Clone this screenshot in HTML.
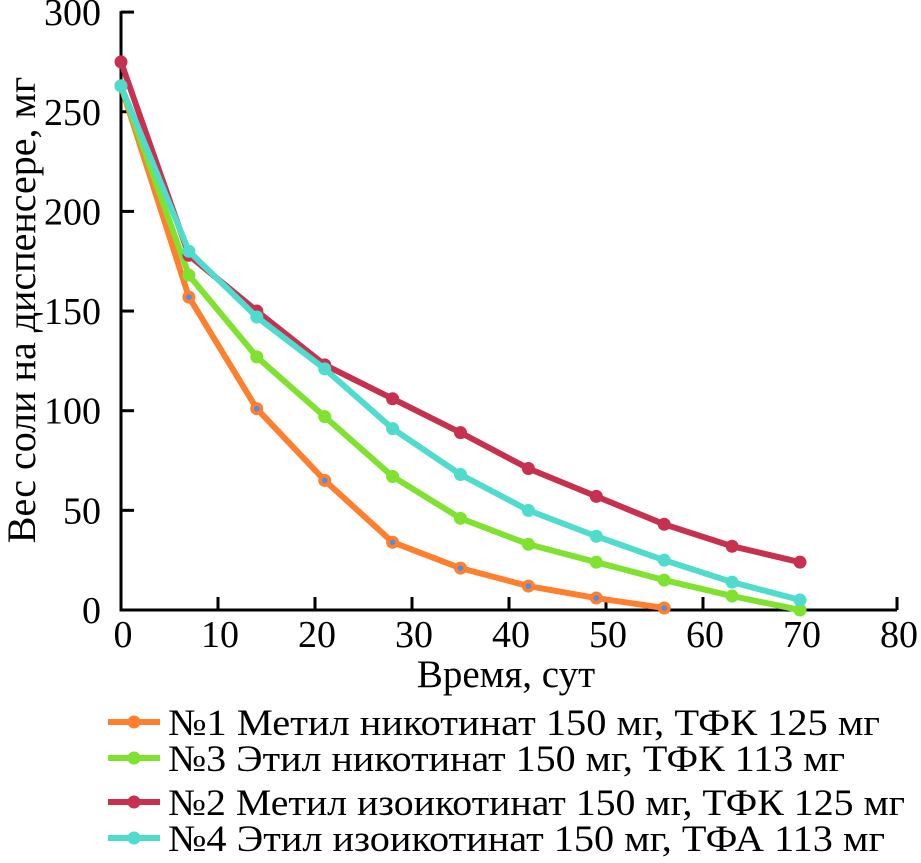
<!DOCTYPE html>
<html><head><meta charset="utf-8"><style>
html,body{margin:0;padding:0;background:#fff;}
svg{display:block;font-family:"Liberation Serif","DejaVu Serif",serif;}
</style></head><body>
<svg id="chart" width="921" height="863" viewBox="0 0 921 863" xmlns="http://www.w3.org/2000/svg">
<g id="axes"></g>
<g id="series"></g>
<g id="legend"></g>
</svg>
<script>
const days = [0,7,14,21,28,35,42,49,56,63,70];
const s1 = [263,157,101,65,34,21,12,6,1];
const s3 = [263,168,127,97,67,46,33,24,15,7,0];
const s2 = [275,178,150,123,106,89,71,57,43,32,24];
const s4 = [263,180,147,121,91,68,50,37,25,14,5];
const xTicks = [0,10,20,30,40,50,60,70,80];
const yTicks = [0,50,100,150,200,250,300];
const labels = ["№1 Метил никотинат 150 мг, ТФК 125 мг","№3 Этил никотинат 150 мг, ТФК 113 мг","№2 Метил изоикотинат 150 мг, ТФК 125 мг","№4 Этил изоикотинат 150 мг, ТФА 113 мг"];

const NS="http://www.w3.org/2000/svg";
const X=t=>121+t*9.7;
const Y=v=>610-v*1.993;
function mk(tag,attrs,parent,text){const e=document.createElementNS(NS,tag);for(const k in attrs)e.setAttribute(k,attrs[k]);if(text!==undefined)e.textContent=text;parent.appendChild(e);return e;}
const axes=document.getElementById('axes');
let a=mk('line',{x1:121,y1:Y(300)-1,x2:121,y2:611.5,stroke:'#000','stroke-width':3},axes);


a=mk('line',{x1:119.5,y1:610,x2:X(80),y2:610,stroke:'#000','stroke-width':3},axes);


yTicks.forEach(v=>{
  if(v>0){const t=mk('line',{x1:121,y1:Y(v),x2:134,y2:Y(v),stroke:'#000','stroke-width':3},axes);
  
  }
  const l=mk('text',{x:101,y:Y(v)+13,'text-anchor':'end','font-size':38},axes,String(v));
  
  
});
xTicks.forEach(v=>{
  if(v>0){const t=mk('line',{x1:X(v),y1:610,x2:X(v),y2:597,stroke:'#000','stroke-width':3},axes);
  
  }
  const l=mk('text',{x:X(v)+2,y:647,'text-anchor':'middle','font-size':38},axes,String(v));
  
  
});
let t=mk('text',{x:506,y:687,'text-anchor':'middle','font-size':39},axes,'Время, сут');


t=mk('text',{x:0,y:0,'text-anchor':'middle','font-size':40,transform:'translate(35,310) rotate(-90)'},axes,'Вес соли на диспенсере, мг');



const ser=document.getElementById('series');
const defs=[[s1,'#ff7f2e',true,'series-1'],[s3,'#7ee22f',false,'series-3'],[s2,'#c8304f',false,'series-2'],[s4,'#4fdccc',false,'series-4']];
defs.forEach(([vals,col,dot,name])=>{
  const g=mk('g',{},ser);
  
  
  const pts=vals.map((v,i)=>X(days[i])+','+Y(v)).join(' ');
  const pl=mk('polyline',{points:pts,fill:'none',stroke:col,'stroke-width':6,'stroke-linejoin':'round'},g);
  
  
  vals.forEach((v,i)=>{
    const c=mk('circle',{cx:X(days[i]),cy:Y(v),r:6.5,fill:col},g);
    
    
    if(dot){const d=mk('circle',{cx:X(days[i]),cy:Y(v),r:2.8,fill:'#4a8fe8'},g);
    
    }
  });
});

const leg=document.getElementById('legend');
const legCols=['#ff7f2e','#7ee22f','#c8304f','#4fdccc'];
const legY=[722,758,802,838];
const legW=[712,677,737,717];
labels.forEach((lab,i)=>{
  const g=mk('g',{},leg);
  
  
  mk('line',{x1:108,y1:legY[i],x2:160,y2:legY[i],stroke:legCols[i],'stroke-width':6},g);
  mk('circle',{cx:134,cy:legY[i],r:6.5,fill:legCols[i]},g);
  const tx=mk('text',{x:168,y:legY[i]+13,'font-size':37.5,textLength:legW[i],lengthAdjust:'spacingAndGlyphs'},g,lab);
  
  
});
</script>
</body></html>
